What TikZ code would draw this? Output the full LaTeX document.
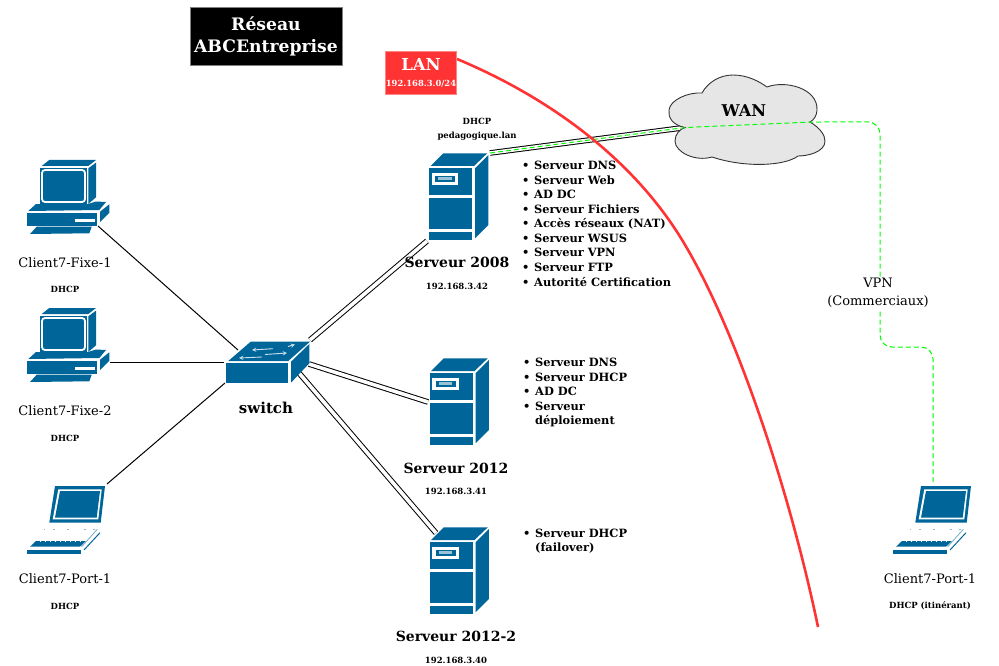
\documentclass[tikz,border=0pt]{standalone}
\usepackage{fontspec}
\setmainfont{DejaVu Serif}
\definecolor{cisco}{HTML}{006699}
\definecolor{rouge}{HTML}{FF3333}
\definecolor{vert}{HTML}{00FF00}
\definecolor{nuage}{HTML}{E6E6E6}
\newcommand{\puce}{\makebox[12pt][l]{\textbullet}}
\newcommand{\sanspuce}{\hspace*{12pt}}
\tikzset{
    icone/.style={fill=cisco, draw=none},
    nomposte/.style={font=\fontsize{13}{16}\selectfont},
    nomserveur/.style={font=\fontsize{14}{17}\selectfont\bfseries},
    petit/.style={font=\fontsize{8.5}{14}\selectfont\bfseries, align=center},
    liste/.style={font=\fontsize{11.4}{14.55}\selectfont\bfseries, align=left, anchor=north west, inner sep=0pt},
    fil/.style={draw=black, line width=1pt},
    doublefil/.style={draw=black, line width=1pt, double=white, double distance=3.6pt},
    vpn/.style={draw=vert, line width=1pt, dash pattern=on 5pt off 3pt},
    pics/fixe/.style={code={
        \fill[icone] (41.7,26) -- (49.3,20) -- (96,20) -- (88.3,26) -- cycle;
        \fill[icone] (40,27.7) rectangle (87.3,64.3);
        \draw[white, line width=1.8pt, rounded corners=3pt] (42,30) rectangle (85,62);
        \fill[icone] (88.3,28.3) -- (96,22.7) -- (96,57.3) -- (88.3,64) -- cycle;
        \fill[icone] (28.3,71) -- (36,64) -- (88,64) -- (96,61.5) -- (106,62) -- (99.3,70) -- cycle;
        \fill[icone] (26.7,73.3) rectangle (97.3,86);
        \fill[white] (75.3,78.7) rectangle (95.3,82.3);
        \fill[icone] (100,71.7) -- (109.3,64.3) -- (109.3,72.7) -- (100,82) -- cycle;
        \fill[icone] (30,94) -- (36.7,86.7) -- (91.7,86.7) -- (89.3,93.3) -- cycle;
    }},
    pics/tour/.style={code={
        \fill[icone] (30.7,66) -- (43.3,53.3) -- (87.3,53.3) -- (74,66) -- cycle;
        \fill[icone] (29,68.3) rectangle (72.3,95);
        \fill[icone] (29,97.7) rectangle (72.3,129.3);
        \fill[icone] (29,132) rectangle (72.3,140);
        \fill[white] (31.7,72.7) rectangle (58.3,85);
        \fill[icone] (35,76) rectangle (55,81.7);
        \fill[white!60!cisco] (38.3,77.4) rectangle (51.7,80);
        \fill[icone] (75,68.3) -- (88.3,55) -- (88.3,125) -- (75,138.3) -- cycle;
    }},
    pics/portable/.style={code={
        \fill[icone] (45,16) -- (95,16) -- (90.7,52.7) -- (39.3,52.7) -- cycle;
        \fill[white] (48.3,19.3) -- (91.7,19.3) -- (88.3,49.3) -- (42.7,49.3) -- cycle;
        \fill[icone] (50,21) -- (90,21) -- (86.7,47.7) -- (45,47.7) -- cycle;
        \foreach \xpt in {33.5,43,57,74,83}
            \fill[white!55!cisco] (\xpt,59) rectangle +(1.5,0.8);
        \fill[icone] (26,71) -- (20,76.7) -- (70,76.7) -- (76,71) -- cycle;
        \foreach \xpt in {30,35,...,70}
            \fill[white] (\xpt,71) rectangle +(0.6,1.2);
        \fill[icone] (16.7,80) rectangle (71,84);
        \draw[draw=cisco, line width=1pt] (74,80) -- (90,62.7);
        \draw[white!45!cisco, line width=0.8pt] (71.7,76.7) -- (87.3,59.3);
    }},
    pics/commutateur/.style={code={
        \fill[icone] (18.3,41) -- (40.7,21.7) -- (100,21.7) -- (78.3,41) -- cycle;
        \fill[icone] (15.7,43.3) rectangle (78.3,62.7);
        \fill[icone] (81,41.7) -- (99.3,24) -- (99.3,43.3) -- (81,62.7) -- cycle;
        \draw[-stealth, white!80!cisco, line width=0.9pt] (63,28.7) -- (42,30);
        \draw[-stealth, white!80!cisco, line width=0.9pt] (55,34.5) -- (77,33);
        \draw[-stealth, white!80!cisco, line width=0.9pt] (52,37) -- (29,38);
        \draw[-stealth, white!80!cisco, line width=0.9pt] (78,26.5) -- (85,24.5);
    }},
}

\begin{document}
\begin{tikzpicture}[x=1pt, y=-1pt]
    \useasboundingbox (0,0) rectangle (999,666);

    % les extremites des liaisons
    \coordinate (fixeA) at (98,226);
    \coordinate (fixeB) at (110,362);
    \coordinate (portA) at (107,484);
    \coordinate (swA) at (238,350);
    \coordinate (swB) at (224,362);
    \coordinate (swC) at (225,383);
    \coordinate (swD) at (310,340);
    \coordinate (swE) at (309,364);
    \coordinate (swF) at (299,373);
    \coordinate (srvA) at (427,241);
    \coordinate (srvAwan) at (490,153);
    \coordinate (srvB) at (428,402);
    \coordinate (srvC) at (436,533);
    \coordinate (wanG) at (685,127.5);
    \coordinate (wanD) at (812,122);
    \coordinate (coudeA) at (880,122);
    \coordinate (coudeB) at (880,347);
    \coordinate (coudeC) at (933,347);
    \coordinate (portB) at (933,485);
    \coordinate (lanBord) at (457,59);
    \coordinate (milieuLan) at (688,250);
    \coordinate (finLan) at (818,627);

    \draw[fil] (fixeA) -- (swA);
    \draw[fil] (fixeB) -- (swB);
    \draw[fil] (portA) -- (swC);
    \draw[doublefil] (swD) -- (srvA);
    \draw[doublefil] (swE) -- (srvB);
    \draw[doublefil] (swF) -- (srvC);
    \draw[doublefil] (srvAwan) -- (wanG);

    % les postes et serveurs
    \pic at (0,140) {fixe};
    \pic at (0,288) {fixe};
    \pic at (10,470) {portable};
    \pic at (876,470) {portable};
    \pic at (210,320) {commutateur};
    \pic at (400,100) {tour};
    \pic at (400.5,305) {tour};
    \pic at (400.5,474) {tour};

    % le nuage
    \draw[fill=nuage, draw=black!80, line width=0.9pt] (wanG)
        .. controls (672,125) and (668,117) .. (669,110)
        .. controls (670,100) and (688,92) .. (702,93)
        .. controls (708,82) and (720,75) .. (733,75)
        .. controls (748,75) and (760,82) .. (767,87)
        .. controls (785,80) and (818,88) .. (817,110)
        .. controls (817,115) and (814,120) .. (810,122)
        .. controls (820,128) and (825,135) .. (825,141)
        .. controls (825,152) and (808,156) .. (798,156)
        .. controls (785,166) and (745,168) .. (712,157)
        .. controls (695,162) and (675,152) .. (675,141)
        .. controls (675,134) and (680,129) .. (wanG) -- cycle;
    \node[font=\fontsize{16.2}{19}\selectfont\bfseries] (wan) at (744,111) {WAN};

    \draw[vpn, rounded corners=12pt] (srvAwan) -- (wanG) -- (wanD) -- (coudeA) -- (coudeB) -- (coudeC) -- (portB);
    \draw[draw=rouge, line width=2.6pt] (lanBord) .. controls (555,100) and (640,165) .. (milieuLan)
        .. controls (740,340) and (791,497) .. (finLan);

    \node[fill=black, draw=black!50, minimum width=152pt, minimum height=58pt, text=white, align=center, inner sep=0pt,
        font=\fontsize{17.2}{22}\selectfont\bfseries] (titre) at (266,36) {\raisebox{-1pt}{Réseau}\\\raisebox{-1pt}{ABCEntreprise}};
    \node[fill=rouge, draw=rouge!60, minimum width=71pt, minimum height=43pt, text=white, align=center, inner sep=0pt] (lan) at (421,72.5)
        {{\fontsize{16.5}{19}\selectfont\bfseries LAN}\\[4pt]{\fontsize{8.4}{10}\selectfont\bfseries 192.168.3.0/24}};

    \node[nomposte] (nomFixeA) at (65,263) {Client7-Fixe-1};
    \node[petit] (ipFixeA) at (65,289) {DHCP};
    \node[nomposte] (nomFixeB) at (65,411) {Client7-Fixe-2};
    \node[petit] (ipFixeB) at (65,438) {DHCP};
    \node[nomposte] (nomPortA) at (65,579) {Client7-Port-1};
    \node[petit] (ipPortA) at (65,606) {DHCP};
    \node[nomposte] (nomPortB) at (930,579) {Client7-Port-1};
    \node[petit] (ipPortB) at (930,606) {DHCP (itinérant)};
    \node[nomserveur, font=\fontsize{15}{17}\selectfont\bfseries] (nomSwitch) at (266,408) {switch};

    \node[petit] (dhcpPeda) at (477,129) {DHCP\\pedagogique.lan};
    \node[nomserveur] (nomA) at (457,262) {Serveur 2008};
    \node[petit] (ipA) at (457,286) {192.168.3.42};
    \node[nomserveur] (nomB) at (456,468) {Serveur 2012};
    \node[petit] (ipB) at (456,491) {192.168.3.41};
    \node[nomserveur] (nomC) at (456,636) {Serveur 2012-2};
    \node[petit] (ipC) at (456,660) {192.168.3.40};

    \node[liste] (listeA) at (522,161) {\puce Serveur DNS\\\puce Serveur Web\\\puce AD DC\\\puce Serveur Fichiers\\\puce Accès réseaux (NAT)\\\puce Serveur WSUS\\\puce Serveur VPN\\\puce Serveur FTP\\\puce Autorité Certification};
    \node[liste] (listeB) at (523,358) {\puce Serveur DNS\\\puce Serveur DHCP\\\puce AD DC\\\puce Serveur\\\sanspuce déploiement};
    \node[liste] (listeC) at (523,528.5) {\puce Serveur DHCP\\\sanspuce (failover)};

    \node[fill=white, align=center, inner sep=1pt, font=\fontsize{13}{18}\selectfont] (vpnNom) at (878,293) {VPN\\(Commerciaux)};
\end{tikzpicture}
\end{document}
